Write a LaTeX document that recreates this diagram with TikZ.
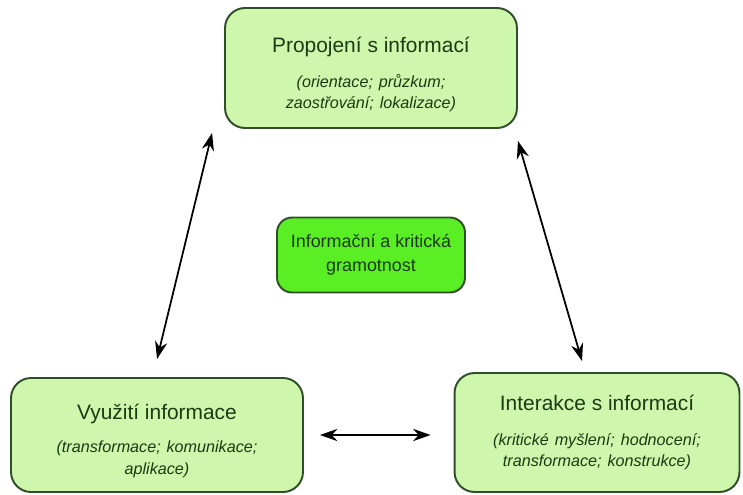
\documentclass[tikz,border=0pt]{standalone}
\usepackage{fontspec}
\setmainfont{Liberation Sans}
\usetikzlibrary{arrows.meta}
\definecolor{boxfill}{RGB}{206,246,172}
\definecolor{corefill}{RGB}{90,238,36}
\definecolor{boxline}{RGB}{48,78,40}
\definecolor{boxtext}{RGB}{28,58,18}
\newcommand{\titlefont}{\fontsize{11.9}{13}\selectfont}
\newcommand{\notefont}{\fontsize{9.2}{11.3}\selectfont\itshape}
\begin{document}
\begin{tikzpicture}[x=0.02cm, y=-0.02cm,
        area/.style={draw=boxline, line width=1.1pt, fill=boxfill,
            rounded corners=0.4cm, text=boxtext, align=center, inner sep=0pt,
            text width=5.5cm},
        core/.style={draw=boxline, line width=1.1pt, fill=corefill,
            rounded corners=0.3cm, text=boxtext, align=center, inner sep=0pt,
            minimum width=3.76cm, minimum height=1.5cm},
        link/.style={{Stealth[length=10pt,width=7pt]}-{Stealth[length=10pt,width=7pt]},
            line width=1pt}]
    \useasboundingbox (0,0) rectangle (743,494);

    \node[area, minimum width=5.84cm, minimum height=2.4cm] (conn) at (371,68)
        {\rule{0pt}{16pt}{\titlefont Propojení s informací}\\[9pt]\notefont (orientace; průzkum;\\zaostřování; lokalizace)};
    \node[core, font=\fontsize{10.2}{13.6}\selectfont] (lit) at (371,255)
        {Informační a kritická\\gramotnost};
    \node[area, minimum width=5.84cm, minimum height=2.28cm] (use) at (157,435)
        {\rule{0pt}{15pt}{\titlefont Využití informace}\\[8pt]\notefont (transformace; komunikace;\\aplikace)};
    \node[area, minimum width=5.7cm, minimum height=2.38cm] (inter) at (597,432.5)
        {{\titlefont Interakce s informací}\\[9pt]\notefont (kritické myšlení; hodnocení;\\transformace; konstrukce)};

    \draw[link] ([xshift=-0.24cm, yshift=-0.08cm]conn.south west) -- ([yshift=0.36cm]use.north);
    \draw[link] ([yshift=-0.24cm]conn.south east) -- ([xshift=-0.3cm, yshift=0.22cm]inter.north);
    \draw[link] ([xshift=0.32cm]use.east) -- ([xshift=-0.46cm]inter.west |- use.east);
\end{tikzpicture}
\end{document}
